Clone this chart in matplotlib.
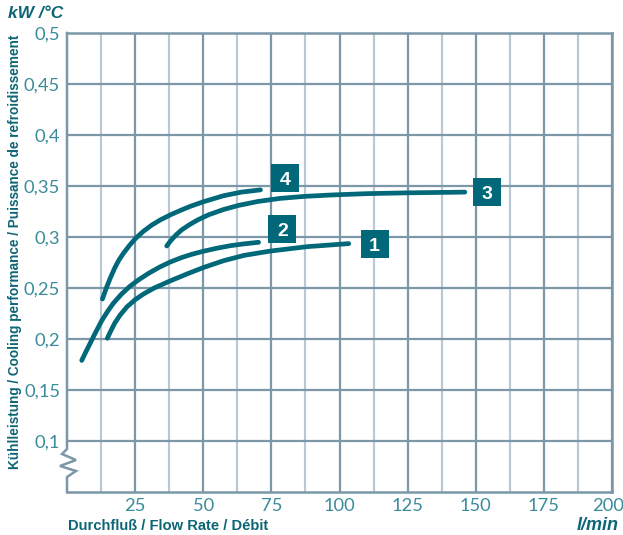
import matplotlib
matplotlib.use("Agg")
import matplotlib.pyplot as plt
import matplotlib.transforms as mtransforms
from matplotlib.lines import Line2D

# ---- data ----
curve1_x = [14.8, 16.0, 17.5, 19.5, 22.0, 25.0, 28.0, 32.0, 37.9, 45.0, 50.0, 57.5, 65.0, 74.6, 88.0, 103.4]
curve1_y = [0.2007, 0.2075, 0.2155, 0.2235, 0.2315, 0.2385, 0.2440, 0.2500, 0.2570, 0.2648, 0.2700, 0.2768, 0.2820, 0.2862, 0.2905, 0.2935]

curve2_x = [5.4, 7.0, 8.5, 10.5, 12.75, 15.0, 17.0, 20.0, 23.0, 26.0, 30.0, 34.0, 37.9, 42.0, 46.0, 50.0, 55.0, 60.0, 65.0, 70.3]
curve2_y = [0.179, 0.1878, 0.1958, 0.2065, 0.2180, 0.2275, 0.2350, 0.2440, 0.2515, 0.2575, 0.2645, 0.2705, 0.2755, 0.2798, 0.2832, 0.2860, 0.2890, 0.2915, 0.2933, 0.2948]

curve3_x = [36.6, 38.0, 40.0, 42.0, 45.0, 48.0, 52.0, 57.5, 63.0, 70.0, 78.0, 87.0, 97.0, 110.0, 125.0, 146.0]
curve3_y = [0.2912, 0.2962, 0.3020, 0.3068, 0.3122, 0.3168, 0.3218, 0.3270, 0.3310, 0.3348, 0.3378, 0.3398, 0.3412, 0.3425, 0.3433, 0.3440]

curve4_x = [13.0, 14.5, 16.0, 17.5, 19.0, 20.7, 23.0, 25.2, 28.0, 31.0, 34.2, 38.0, 42.0, 45.2, 50.0, 57.5, 64.0, 71.0]
curve4_y = [0.2392, 0.2505, 0.2605, 0.2695, 0.2772, 0.2840, 0.2920, 0.2987, 0.3055, 0.3115, 0.3167, 0.3218, 0.3265, 0.3300, 0.3345, 0.3405, 0.3440, 0.3462]

label_names = ["1", "2", "3", "4"]
label_x = [112.9, 79.0, 154.2, 80.0]
label_y = [0.2931, 0.3078, 0.3441, 0.3578]

x_ticks = [25, 50, 75, 100, 125, 150, 175, 200]
x_ticklabels = ["25", "50", "75", "100", "125", "150", "175", "200"]
y_ticks = [0.1, 0.15, 0.2, 0.25, 0.3, 0.35, 0.4, 0.45, 0.5]
y_ticklabels = ["0,1", "0,15", "0,2", "0,25", "0,3", "0,35", "0,4", "0,45", "0,5"]
minor_x = [12.5, 37.5, 62.5, 87.5, 112.5, 137.5, 162.5, 187.5]

TEAL = "#006878"
TEXT = "#0c6676"
TICKC = "#3a8c9b"
GRID_D = "#7b97a8"
GRID_L = "#b9c9d4"

fig = plt.figure(figsize=(6.23, 5.35), dpi=100)
ax = fig.add_axes([67/623, 43/535, 545/623, 459/535])
ax.set_xlim(0, 200)
ax.set_ylim(0.05, 0.5)

# grid
for xv in minor_x:
    ax.axvline(xv, color=GRID_L, lw=1.6, zorder=1)
for xv in x_ticks:
    ax.axvline(xv, color=GRID_D, lw=1.6, zorder=1.2)
for yv in y_ticks:
    ax.axhline(yv, color=GRID_D, lw=1.6, zorder=1.3)

for s in ["top", "right", "bottom"]:
    ax.spines[s].set_color(GRID_D)
    ax.spines[s].set_linewidth(1.8)
ax.spines["left"].set_visible(False)

# left spine with break zigzag (pixel geometry -> axes fraction)
pts = [(67, 33), (67, 449), (62, 454), (76, 460), (60, 466), (76, 471), (67, 477), (67, 492)]
bx = [(px - 67) / 545 for px, py in pts]
by = [(492 - py) / 459 for px, py in pts]
ax.add_line(Line2D(bx, by, transform=ax.transAxes, color=GRID_D, lw=1.8,
                   clip_on=False, zorder=5, solid_joinstyle="miter"))

# curves
for xs, ys in [(curve1_x, curve1_y), (curve2_x, curve2_y), (curve3_x, curve3_y), (curve4_x, curve4_y)]:
    ax.plot(xs, ys, color=TEAL, lw=3.4, solid_capstyle="round", solid_joinstyle="round", zorder=4)

# label boxes
for name, lx, ly in zip(label_names, label_x, label_y):
    ax.plot([lx], [ly], marker="s", markersize=20.5, color=TEAL, markeredgewidth=0, zorder=6, clip_on=False)
    ax.text(lx, ly, name, color="white", fontsize=14, fontweight="bold", family="Liberation Sans",
            ha="center", va="center_baseline", zorder=7)

# ticks
ax.set_xticks(x_ticks)
ax.set_xticklabels(x_ticklabels)
ax.set_yticks(y_ticks)
ax.set_yticklabels(y_ticklabels)
ax.tick_params(axis="both", length=0, colors=TICKC, labelsize=13.2)
ax.tick_params(axis="x", pad=4)
ax.tick_params(axis="y", pad=5)
for lab in ax.get_xticklabels() + ax.get_yticklabels():
    lab.set_family(["Lato", "DejaVu Sans"])
    lab.set_fontweight("normal")
xl = ax.get_xticklabels()
xl[-1].set_transform(xl[-1].get_transform() +
                     mtransforms.ScaledTranslation(-4/100, 0, fig.dpi_scale_trans))

# axis texts
fig.text(15/623, 1 - 252/535, "Kühlleistung / Cooling performance / Puissance de refroidissement",
         rotation=90, ha="center", va="center", color=TEXT, fontsize=9.8, fontweight="bold",
         family="Liberation Sans")
fig.text(8/623, 1 - 13/535, "kW /°C", ha="left", va="center", color=TEXT, fontsize=12.5,
         fontweight="bold", style="italic", family="Liberation Sans")
fig.text(68/623, 1 - 526/535, "Durchfluß / Flow Rate / Débit", ha="left", va="center", color=TEXT,
         fontsize=10.6, fontweight="bold", family="Liberation Sans")
fig.text(619/623, 1 - 525/535, "l/min", ha="right", va="center", color=TEXT, fontsize=13,
         fontweight="bold", style="italic", family="Liberation Sans")

fig.savefig("out.png", dpi=100)
